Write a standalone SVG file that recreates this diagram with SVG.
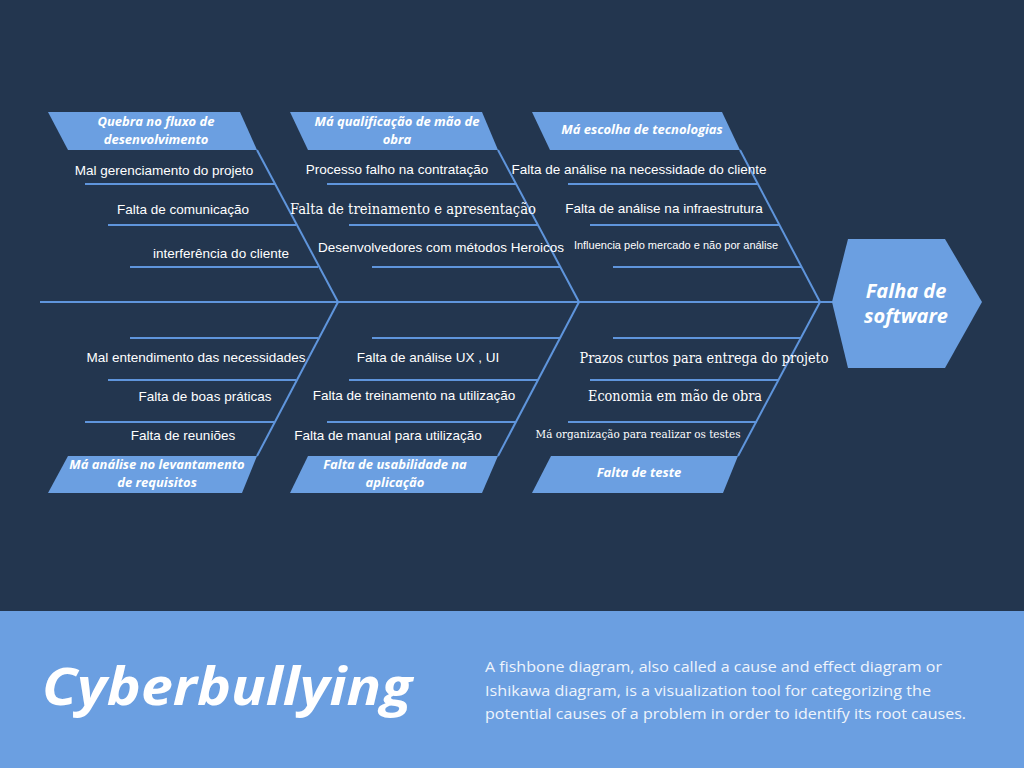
<svg xmlns="http://www.w3.org/2000/svg" width="1024" height="768" viewBox="0 0 1024 768">
<style>
.bg{fill:#23364f}
.band{fill:#6b9fe1}
.bone{stroke:#5f95dc;stroke-width:2;fill:none}
.box{fill:#6b9fe1}
.cat{font-family:"Open Sans","Liberation Sans",sans-serif;font-weight:700;font-style:italic;font-size:13px;fill:#ffffff;text-anchor:middle}
.lbl{font-family:"Liberation Sans",Arial,sans-serif;font-size:13.5px;fill:#ffffff;text-anchor:middle}
.ser{font-family:"DejaVu Serif","Liberation Serif",serif;font-size:14px;fill:#ffffff;text-anchor:middle}
.hex{font-family:"Open Sans","Liberation Sans",sans-serif;font-weight:700;font-style:italic;font-size:20px;fill:#ffffff;text-anchor:middle}
.title{font-family:"Open Sans","Liberation Sans",sans-serif;font-weight:700;font-style:italic;font-size:52px;fill:#ffffff}
.desc{font-family:"Open Sans","Liberation Sans",sans-serif;font-size:15px;fill:#eef4fc}
</style>
<rect class="bg" x="0" y="0" width="1024" height="768"/>
<rect class="band" x="0" y="611" width="1024" height="157"/>

<g id="connectors">
<line class="bone" x1="40" y1="302" x2="833" y2="302"/>
<line class="bone" x1="257" y1="150" x2="338" y2="302"/>
<line class="bone" x1="498" y1="150" x2="579" y2="302"/>
<line class="bone" x1="740" y1="150" x2="820" y2="302"/>
<line class="bone" x1="338" y1="302" x2="257" y2="456"/>
<line class="bone" x1="579" y1="302" x2="498" y2="456"/>
<line class="bone" x1="820" y1="302" x2="738" y2="456"/>
<line class="bone" x1="85" y1="184" x2="275" y2="184"/>
<line class="bone" x1="108" y1="225" x2="296" y2="225"/>
<line class="bone" x1="130" y1="267" x2="318" y2="267"/>
<line class="bone" x1="327" y1="184" x2="516" y2="184"/>
<line class="bone" x1="349" y1="225" x2="538" y2="225"/>
<line class="bone" x1="372" y1="267" x2="560" y2="267"/>
<line class="bone" x1="568" y1="184" x2="757" y2="184"/>
<line class="bone" x1="590" y1="225" x2="779" y2="225"/>
<line class="bone" x1="613" y1="267" x2="801" y2="267"/>
<line class="bone" x1="130" y1="338" x2="318" y2="338"/>
<line class="bone" x1="108" y1="380" x2="296" y2="380"/>
<line class="bone" x1="85" y1="422" x2="274" y2="422"/>
<line class="bone" x1="372" y1="338" x2="560" y2="338"/>
<line class="bone" x1="349" y1="380" x2="538" y2="380"/>
<line class="bone" x1="327" y1="422" x2="516" y2="422"/>
<line class="bone" x1="613" y1="338" x2="800" y2="338"/>
<line class="bone" x1="590" y1="380" x2="779" y2="380"/>
<line class="bone" x1="568" y1="422" x2="757" y2="422"/>
</g>

<g id="cat1">
<polygon class="box" points="48,112 240,112 257,150 68,150"/>
<text class="cat" x="156" y="126">Quebra no fluxo de</text>
<text class="cat" x="156" y="144">desenvolvimento</text>
</g>
<g id="cat2">
<polygon class="box" points="290,112 482,112 498,150 308,150"/>
<text class="cat" x="397" y="126">Má qualificação de mão de</text>
<text class="cat" x="397" y="144">obra</text>
</g>
<g id="cat3">
<polygon class="box" points="532,112 722,112 740,150 550,150"/>
<text class="cat" x="642" y="134">Má escolha de tecnologias</text>
</g>
<g id="cat4">
<polygon class="box" points="68,456 257,456 242,493 48,493"/>
<text class="cat" x="157" y="469">Má análise no levantamento</text>
<text class="cat" x="157" y="487">de requisitos</text>
</g>
<g id="cat5">
<polygon class="box" points="308,456 498,456 482,493 290,493"/>
<text class="cat" x="395" y="469">Falta de usabilidade na</text>
<text class="cat" x="395" y="487">aplicação</text>
</g>
<g id="cat6">
<polygon class="box" points="551,456 738,456 723,493 532,493"/>
<text class="cat" x="639" y="477">Falta de teste</text>
</g>

<g id="causes1">
<text class="lbl" x="164" y="175">Mal gerenciamento do projeto</text>
<text class="lbl" x="183" y="214">Falta de comunicação</text>
<text class="lbl" x="221" y="258">interferência do cliente</text>
</g>
<g id="causes2">
<text class="lbl" x="397" y="174">Processo falho na contratação</text>
<text class="ser" x="413" y="214" textLength="246" lengthAdjust="spacingAndGlyphs">Falta de treinamento e apresentação</text>
<text class="lbl" x="441" y="252">Desenvolvedores com métodos Heroicos</text>
</g>
<g id="causes3">
<text class="lbl" x="639" y="174">Falta de análise na necessidade do cliente</text>
<text class="lbl" x="664" y="213">Falta de análise na infraestrutura</text>
<text class="lbl" x="676" y="249" style="font-size:11px">Influencia pelo mercado e não por análise</text>
</g>
<g id="causes4">
<text class="lbl" x="196" y="362">Mal entendimento das necessidades</text>
<text class="lbl" x="205" y="401">Falta de boas práticas</text>
<text class="lbl" x="183" y="440">Falta de reuniões</text>
</g>
<g id="causes5">
<text class="lbl" x="428" y="362">Falta de análise UX , UI</text>
<text class="lbl" x="414" y="400">Falta de treinamento na utilização</text>
<text class="lbl" x="388" y="440">Falta de manual para utilização</text>
</g>
<g id="causes6">
<text class="ser" x="704" y="363" textLength="249" lengthAdjust="spacingAndGlyphs">Prazos curtos para entrega do projeto</text>
<text class="ser" x="675" y="401" textLength="174" lengthAdjust="spacingAndGlyphs">Economia em mão de obra</text>
<text class="ser" x="638" y="438" style="font-size:11px" textLength="205" lengthAdjust="spacingAndGlyphs">Má organização para realizar os testes</text>
</g>

<g id="effect">
<polygon class="box" points="832,302 848,239 945,239 982,302 945,368 848,368"/>
<text class="hex" x="906" y="298">Falha de</text>
<text class="hex" x="906" y="323">software</text>
</g>

<g id="footer">
<text class="title" x="42" y="705" textLength="370" lengthAdjust="spacingAndGlyphs">Cyberbullying</text>
<text class="desc" x="485" y="672" textLength="457" lengthAdjust="spacingAndGlyphs">A fishbone diagram, also called a cause and effect diagram or</text>
<text class="desc" x="485" y="696" textLength="446" lengthAdjust="spacingAndGlyphs">Ishikawa diagram, is a visualization tool for categorizing the</text>
<text class="desc" x="485" y="719" textLength="481" lengthAdjust="spacingAndGlyphs">potential causes of a problem in order to identify its root causes.</text>
</g>
</svg>
